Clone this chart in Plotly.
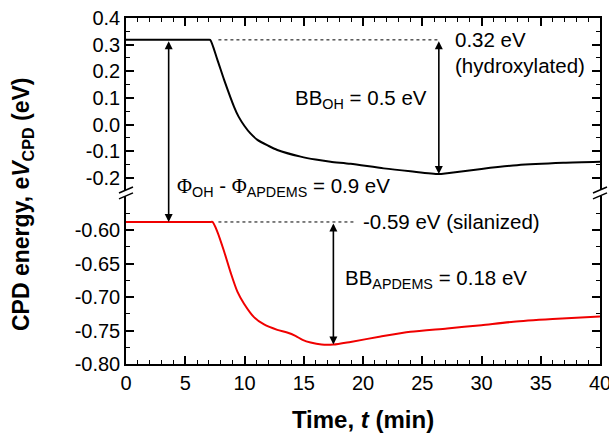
import plotly.graph_objects as go

# ---------------- data ----------------
black_t = [0, 6.9, 7.1, 7.7, 8.28, 9.12, 9.5, 10.0, 10.5, 11.09, 12.0, 12.77, 14.74, 16.0, 17.26, 18.95, 21.75, 24.0, 26.38, 27.1, 30.0, 33.0, 36.9, 40.0]
black_v = [0.318, 0.318, 0.318, 0.245, 0.168, 0.067, 0.030, -0.005, -0.033, -0.057, -0.079, -0.095, -0.120, -0.131, -0.139, -0.147, -0.164, -0.175, -0.185, -0.182, -0.166, -0.152, -0.143, -0.139]

red_t = [0, 7.1, 7.3, 7.72, 8.28, 8.84, 9.4, 9.96, 10.8, 11.65, 12.77, 13.6, 14.3, 14.9, 15.58, 16.5, 17.5, 18.95, 21.5, 24.0, 27.1, 30.0, 32.7, 36.0, 40.0]
red_v = [-0.588, -0.588, -0.588, -0.603, -0.632, -0.664, -0.692, -0.710, -0.730, -0.741, -0.749, -0.753, -0.758, -0.764, -0.768, -0.771, -0.771, -0.767, -0.759, -0.752, -0.747, -0.742, -0.737, -0.733, -0.729]

x_ticks = [0, 5, 10, 15, 20, 25, 30, 35, 40]
upper_ticks = [0.4, 0.3, 0.2, 0.1, 0.0, -0.1, -0.2]
lower_ticks = [-0.60, -0.65, -0.70, -0.75, -0.80]

oh_level, oh_min, oh_arrow_t = 0.318, -0.185, 26.4
si_level, si_min, si_arrow_t = -0.588, -0.771, 17.5
diff_arrow_t = 3.6
dot_start_t = 7.8
si_dot_end_t = 19.3

# ---------------- layout geometry ----------------
W, H = 609, 441
ML, MR, MT, MB = 126, 9, 18, 77
PW, PH = W - ML - MR, H - MT - MB
up_range = [-0.245, 0.4]
lo_range = [-0.80, -0.549]
up_dom = [0.503, 1.0]
lo_dom = [0.0, 0.486]

def up_paper(v):
    return up_dom[0] + (v - up_range[0]) / (up_range[1] - up_range[0]) * (up_dom[1] - up_dom[0])

def lo_paper(v):
    return lo_dom[0] + (v - lo_range[0]) / (lo_range[1] - lo_range[0]) * (lo_dom[1] - lo_dom[0])

FONT = "Liberation Sans, Arial, sans-serif"
TICKF = dict(family=FONT, size=20, color="black")
ANNF = dict(family=FONT, size=20.5, color="black")
PHI = '<span style="font-family:Liberation Serif, Times New Roman, serif">Φ</span>'

fig = go.Figure()
fig.add_trace(go.Scatter(x=black_t, y=black_v, mode="lines",
                         line=dict(color="black", width=2, shape="spline", smoothing=0.7),
                         xaxis="x2", yaxis="y2", showlegend=False))
fig.add_trace(go.Scatter(x=red_t, y=red_v, mode="lines",
                         line=dict(color="#f00000", width=2, shape="spline", smoothing=0.7),
                         xaxis="x", yaxis="y", showlegend=False))

common_y = dict(showline=True, linecolor="black", linewidth=1.5, mirror="ticks", ticks="inside",
                ticklen=8, tickwidth=1.5, tickcolor="black", showgrid=False, zeroline=False,
                tickfont=TICKF, automargin=False)

fig.update_layout(
    width=W, height=H, margin=dict(l=ML, r=MR, t=MT, b=MB, autoexpand=False),
    paper_bgcolor="white", plot_bgcolor="white",
    xaxis=dict(domain=[0, 1], anchor="y", range=[0, 40], tickvals=x_ticks, showline=True,
               linecolor="black", linewidth=1.5, ticks="inside", ticklen=8, tickwidth=1.5,
               tickcolor="black", showgrid=False, zeroline=False, tickfont=TICKF,
               ticklabeloverflow="allow", automargin=False,
               minor=dict(dtick=1, ticks="inside", ticklen=4, tickwidth=1.2, tickcolor="black", showgrid=False),
               title=dict(text="<b>Time, <i>t</i> (min)</b>", font=dict(family=FONT, size=24, color="black"), standoff=18)),
    xaxis2=dict(domain=[0, 1], anchor="y2", matches="x", side="top", range=[0, 40], tickvals=x_ticks,
                showline=True, linecolor="black", linewidth=1.5, ticks="inside", ticklen=8, tickwidth=1.5,
                tickcolor="black", showgrid=False, zeroline=False, showticklabels=False, automargin=False,
                minor=dict(dtick=1, ticks="inside", ticklen=4, tickwidth=1.2, tickcolor="black", showgrid=False)),
    yaxis=dict(domain=lo_dom, anchor="x", range=lo_range, tickvals=lower_ticks,
               ticktext=["%.2f" % v for v in lower_ticks],
               minor=dict(dtick=0.025, tick0=-0.8, ticks="inside", ticklen=4, tickwidth=1.2, tickcolor="black", showgrid=False),
               **common_y),
    yaxis2=dict(domain=up_dom, anchor="x2", range=up_range, tickvals=upper_ticks,
                ticktext=["%.1f" % v for v in upper_ticks],
                minor=dict(dtick=0.05, tick0=0, ticks="inside", ticklen=4, tickwidth=1.2, tickcolor="black", showgrid=False),
                **common_y),
)

# dotted reference lines
fig.add_shape(type="line", xref="x2", yref="y2", x0=dot_start_t, x1=oh_arrow_t, y0=oh_level, y1=oh_level,
              line=dict(color="black", width=1, dash="dot"))
fig.add_shape(type="line", xref="x", yref="y", x0=dot_start_t, x1=si_dot_end_t, y0=si_level, y1=si_level,
              line=dict(color="black", width=1, dash="dot"))

arrow_style = dict(showarrow=True, text="", arrowhead=2, arrowsize=1.0, arrowwidth=1.6,
                   arrowcolor="black", arrowside="end+start", standoff=0, startstandoff=0)

# BB_OH arrow
fig.add_annotation(x=oh_arrow_t, y=oh_min, ax=oh_arrow_t, ay=oh_level, xref="x2", yref="y2",
                   axref="x2", ayref="y2", **arrow_style)
# BB_APDEMS arrow
fig.add_annotation(x=si_arrow_t, y=si_min, ax=si_arrow_t, ay=si_level, xref="x", yref="y",
                   axref="x", ayref="y", **arrow_style)
# work-function difference arrow across the break
y_top = up_paper(oh_level)
y_bot = lo_paper(si_level)
fig.add_annotation(x=diff_arrow_t, y=y_bot, xref="x", yref="paper", ax=0, ay=-(y_top - y_bot) * PH,
                   **arrow_style)

# text labels
fig.add_annotation(x=oh_arrow_t + 1.2, y=oh_level, xref="x2", yref="y2", text="0.32 eV",
                   showarrow=False, xanchor="left", yanchor="middle", font=ANNF)
fig.add_annotation(x=oh_arrow_t + 1.2, y=oh_level - 0.095, xref="x2", yref="y2", text="(hydroxylated)",
                   showarrow=False, xanchor="left", yanchor="middle", font=ANNF)
fig.add_annotation(x=oh_arrow_t - 0.8, y=0.095, xref="x2", yref="y2", text="BB<sub>OH</sub> = 0.5 eV",
                   showarrow=False, xanchor="right", yanchor="middle", font=ANNF)
fig.add_annotation(x=diff_arrow_t + 0.5, y=-0.235, xref="x2", yref="y2",
                   text=PHI + "<sub>OH</sub> - " + PHI + "<sub>APDEMS</sub> = 0.9 eV",
                   showarrow=False, xanchor="left", yanchor="middle", font=ANNF)
fig.add_annotation(x=si_dot_end_t + 0.5, y=si_level, xref="x", yref="y", text="-0.59 eV (silanized)",
                   showarrow=False, xanchor="left", yanchor="middle", font=ANNF)
fig.add_annotation(x=si_arrow_t + 0.8, y=-0.673, xref="x", yref="y", text="BB<sub>APDEMS</sub> = 0.18 eV",
                   showarrow=False, xanchor="left", yanchor="middle", font=ANNF)

# y-axis title
fig.add_annotation(x=-(ML - 23) / PW, y=(H - MB - 205) / PH, xref="paper", yref="paper",
                   text="<b>CPD energy, e<i>V</i><sub>CPD</sub> (eV)</b>", textangle=-90,
                   showarrow=False, xanchor="center", yanchor="middle",
                   font=dict(family=FONT, size=23, color="black"))

# axis break marks
for xp in (0.0, 1.0):
    for yc in (lo_dom[1], up_dom[0]):
        fig.add_shape(type="line", xref="paper", yref="paper",
                      x0=xp - 7 / PW, x1=xp + 7 / PW, y0=yc - 3 / PH, y1=yc + 3 / PH,
                      line=dict(color="black", width=1.5))

fig.write_html("out.html")
